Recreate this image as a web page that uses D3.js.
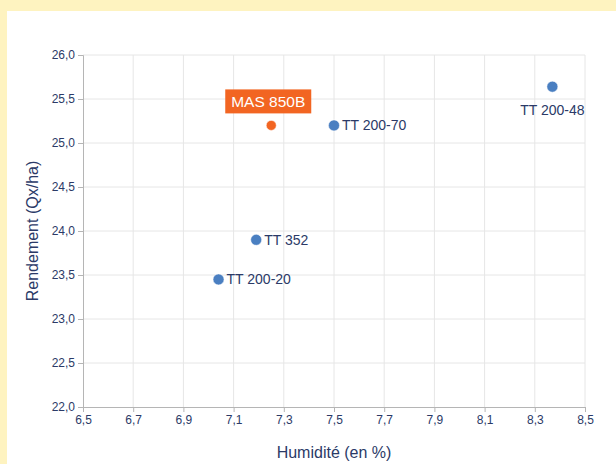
<!DOCTYPE html>
<html>
<head>
<meta charset="utf-8">
<script src="https://cdn.jsdelivr.net/npm/d3@7"></script>
<style>
  body { margin: 0; background: #fef3c0; }
  svg { display: block; }
</style>
</head>
<body>
<svg></svg>
<script>
// Set data
const varieties = ["MAS 850B", "TT 200-70", "TT 200-48", "TT 352", "TT 200-20"];
const humidity = [7.25, 7.5, 8.37, 7.19, 7.04];
const yieldValues = [25.2, 25.2, 25.64, 23.9, 23.45];
const highlighted = ["MAS 850B"];
const xTicks = [6.5, 6.7, 6.9, 7.1, 7.3, 7.5, 7.7, 7.9, 8.1, 8.3, 8.5];
const yTicks = [22.0, 22.5, 23.0, 23.5, 24.0, 24.5, 25.0, 25.5, 26.0];

const points = varieties.map((name, i) => ({name: name, x: humidity[i], y: yieldValues[i]}));

// Set width and height
const width = 616;
const height = 464;
const margin = {left: 83, right: 31, top: 55, bottom: 57};

const textColor = "#2b3a67";
const blue = "#4a7fc1";
const orange = "#f26522";
const tickFont = "'Liberation Sans Narrow', 'Arial Narrow', 'Liberation Sans', sans-serif";
const labelFont = "'Liberation Sans', Arial, sans-serif";

const canvas = d3.select("svg")
    .attr("width", width)
    .attr("height", height);

// white panel inside the yellow frame
canvas.append("rect")
    .attr("x", 7).attr("y", 11)
    .attr("width", width - 7).attr("height", height - 11)
    .attr("fill", "white");

const x = d3.scaleLinear().domain([6.5, 8.5]).range([margin.left, width - margin.right]);
const y = d3.scaleLinear().domain([22, 26]).range([height - margin.bottom, margin.top]);

const fmt = d => d3.format(".1f")(d).replace(".", ",");

// grid
const grid = canvas.append("g");
grid.selectAll(".vgrid")
    .data(xTicks.slice(1))
    .enter().append("line")
    .attr("x1", d => x(d)).attr("x2", d => x(d))
    .attr("y1", y(26)).attr("y2", y(22))
    .attr("stroke", "#e6e6e6")
    .attr("stroke-width", 1);
grid.selectAll(".hgrid")
    .data(yTicks.slice(1))
    .enter().append("line")
    .attr("x1", x(6.5)).attr("x2", x(8.5))
    .attr("y1", d => y(d)).attr("y2", d => y(d))
    .attr("stroke", "#e6e6e6")
    .attr("stroke-width", 1);

// axes
const xAxis = canvas.append("g")
    .attr("transform", "translate(0," + y(22) + ")")
    .call(d3.axisBottom(x).tickValues(xTicks).tickFormat(fmt).tickSizeOuter(0).tickSize(5).tickPadding(3));
const yAxis = canvas.append("g")
    .attr("transform", "translate(" + x(6.5) + ",0)")
    .call(d3.axisLeft(y).tickValues(yTicks).tickFormat(fmt).tickSizeOuter(0).tickSize(5).tickPadding(3));

for (const axis of [xAxis, yAxis]) {
    axis.select(".domain").attr("stroke", "#b5b5b5");
    axis.selectAll(".tick line").attr("stroke", "#b5b5b5");
    axis.selectAll(".tick text")
        .attr("fill", textColor)
        .style("font-family", tickFont)
        .style("font-size", "12px");
}

// axis titles
canvas.append("text")
    .attr("x", (x(6.5) + x(8.5)) / 2).attr("y", 458)
    .attr("text-anchor", "middle")
    .attr("fill", textColor)
    .style("font-family", labelFont)
    .style("font-size", "16px")
    .text("Humidité (en %)");
canvas.append("text")
    .attr("transform", "translate(38," + (y(22) + y(26)) / 2 + ") rotate(-90)")
    .attr("text-anchor", "middle")
    .attr("fill", textColor)
    .style("font-family", labelFont)
    .style("font-size", "16px")
    .text("Rendement (Qx/ha)");

// points
const isHighlighted = d => highlighted.includes(d.name);

canvas.selectAll(".dot")
    .data(points)
    .enter().append("circle")
    .attr("cx", d => x(d.x)).attr("cy", d => y(d.y))
    .attr("r", d => isHighlighted(d) ? 5 : 5.5)
    .attr("fill", d => isHighlighted(d) ? orange : blue)
    .attr("stroke", "white")
    .attr("stroke-width", 0.5);

// labels
const plain = points.filter(d => !isHighlighted(d));
canvas.selectAll(".lbl")
    .data(plain)
    .enter().append("text")
    .attr("x", d => d.x > 8.2 ? x(d.x) : x(d.x) + 8)
    .attr("y", d => d.x > 8.2 ? y(d.y) + 28 : y(d.y) + 5)
    .attr("text-anchor", d => d.x > 8.2 ? "middle" : "start")
    .attr("fill", textColor)
    .style("font-family", labelFont)
    .style("font-size", "14px")
    .text(d => d.name);

const flagged = points.filter(isHighlighted);
const flag = canvas.selectAll(".flag")
    .data(flagged)
    .enter().append("g")
    .attr("transform", d => "translate(" + (x(d.x) - 3) + "," + (y(d.y) - 24) + ")");
flag.append("rect")
    .attr("x", -43).attr("y", -12)
    .attr("width", 86).attr("height", 24)
    .attr("fill", orange);
flag.append("text")
    .attr("y", 5.5)
    .attr("text-anchor", "middle")
    .attr("fill", "white")
    .style("font-family", labelFont)
    .style("font-size", "15.5px")
    .text(d => d.name);
</script>
</body>
</html>
